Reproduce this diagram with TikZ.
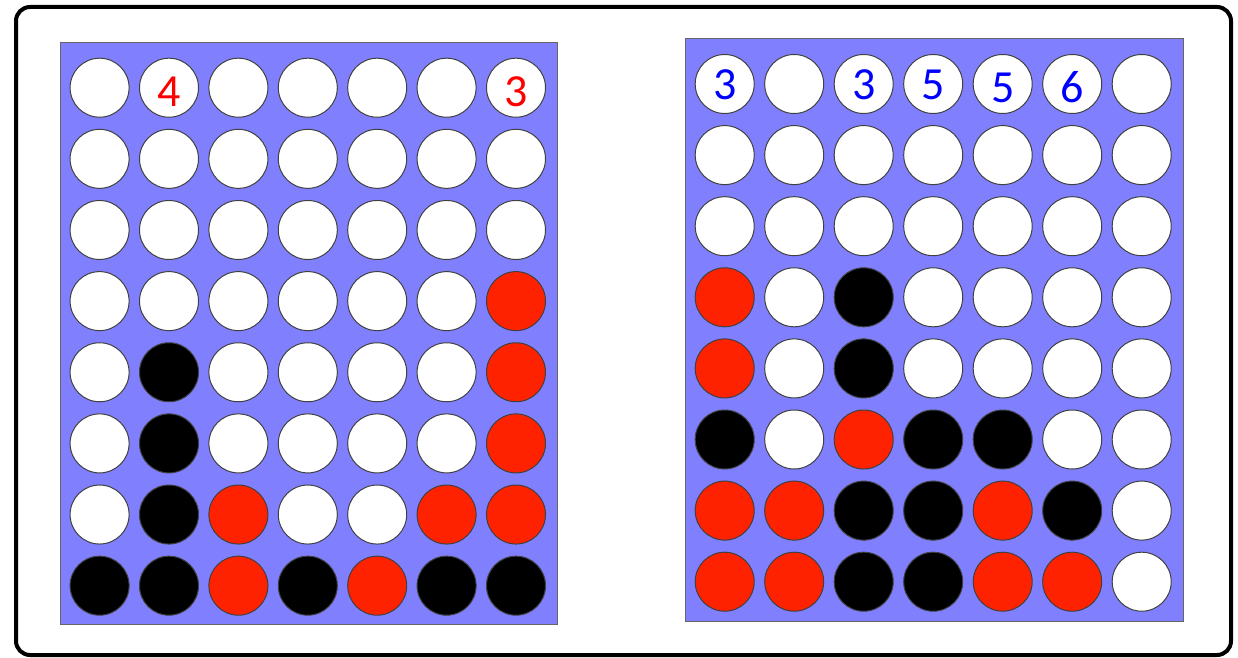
\documentclass[tikz,border=0pt]{standalone}
\usepackage{fontspec}
\newfontfamily\chipfont{Carlito}
\usetikzlibrary{positioning}
\definecolor{boardBlue}{HTML}{8080FF}
\definecolor{chipw}{HTML}{FFFFFF}
\definecolor{chipr}{HTML}{FF2200}
\definecolor{chipb}{HTML}{000000}

\begin{document}
\begin{tikzpicture}[x=0.5pt, y=-0.5pt,
    frame/.style={draw=black, line width=2pt, rounded corners=7pt},
    board/.style={rectangle, draw=black!60, line width=0.5pt, fill=boardBlue, inner sep=0pt},
    hole/.style={circle, draw=black!75, line width=0.5pt, minimum size=29.5pt, inner sep=0pt},
    tag/.style={font=\chipfont\fontsize{23}{23}\selectfont, inner sep=0pt},
  ]
    \useasboundingbox (0,0) rectangle (1238,658);
    \draw[frame] (16,7) rectangle (1231,655);

    \node[board, minimum width=248.25pt, minimum height=290.85pt] (leftboard) at (308.75,333.15) {};
    \node[board, minimum width=249pt, minimum height=291.35pt] (rightboard) at (934,329.65) {};

    % left board, top row first
    \foreach \row [count=\r] in {
        {w,w,w,w,w,w,w},
        {w,w,w,w,w,w,w},
        {w,w,w,w,w,w,w},
        {w,w,w,w,w,w,r},
        {w,b,w,w,w,w,r},
        {w,b,w,w,w,w,r},
        {w,b,r,w,w,r,r},
        {b,b,r,b,r,b,b}}{
      \foreach \c [count=\k] in \row
        \node[hole, fill=chip\c] (L-\r-\k) at ({99.6+69.4*(\k-1)}, {87.7+71.14*(\r-1)}) {};
    }

    % right board, top row first
    \foreach \row [count=\r] in {
        {w,w,w,w,w,w,w},
        {w,w,w,w,w,w,w},
        {w,w,w,w,w,w,w},
        {r,w,b,w,w,w,w},
        {r,w,b,w,w,w,w},
        {b,w,r,b,b,w,w},
        {r,r,b,b,r,b,w},
        {r,r,b,b,r,r,w}}{
      \foreach \c [count=\k] in \row
        \node[hole, fill=chip\c] (R-\r-\k) at ({724.7+69.5*(\k-1)}, {84+71.1*(\r-1)}) {};
    }

    \node[tag, text=red, yshift=-2pt] (t4) at (L-1-2) {4};
    \node[tag, text=red, yshift=-2pt] (t3) at (L-1-7) {3};

    \node[tag, text=blue, yshift=-0.5pt] (u1) at (R-1-1) {3};
    \node[tag, text=blue, yshift=-0.5pt] (u3) at (R-1-3) {3};
    \node[tag, text=blue, yshift=-0.5pt] (u4) at (R-1-4) {5};
    \node[tag, text=blue, yshift=-2pt] (u5) at (R-1-5) {5};
    \node[tag, text=blue, yshift=-1.5pt] (u6) at (R-1-6) {6};
  \end{tikzpicture}
\end{document}
